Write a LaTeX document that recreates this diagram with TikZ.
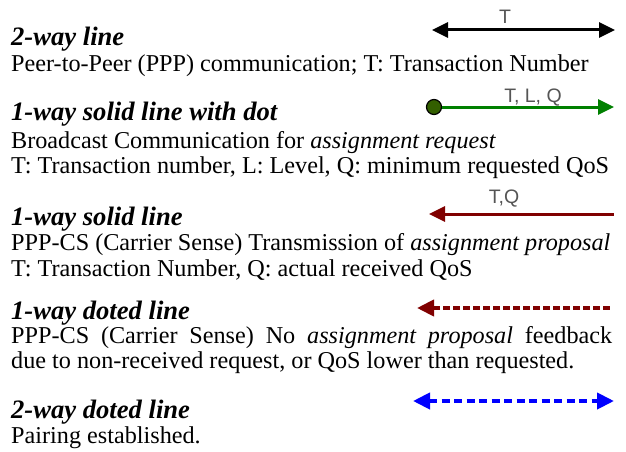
\documentclass[tikz,border=0pt]{standalone}
\usepackage{fontspec}
\setmainfont{Liberation Serif}
\newfontfamily\labelfont{Liberation Sans}
\usetikzlibrary{arrows.meta}

\definecolor{linkgreen}{RGB}{0,128,0}
\definecolor{dotgreen}{RGB}{51,95,0}
\definecolor{linkred}{RGB}{128,0,0}
\definecolor{linkblue}{RGB}{0,0,255}
\definecolor{tagtext}{RGB}{85,85,85}

\begin{document}
\begin{tikzpicture}[x=1pt, y=-1pt,
        head/.style = {anchor=base west, inner sep=0pt, font=\fontsize{26.6}{27}\selectfont\bfseries\itshape},
        body/.style = {anchor=base west, inner sep=0pt, font=\fontsize{24.2}{25}\selectfont},
        tag/.style  = {inner sep=0pt, anchor=base, text=tagtext, font=\labelfont\fontsize{19.5}{20}\selectfont},
        thintip/.tip = {Triangle[length=16pt, width=15pt]},
        dashtip/.tip = {Triangle[length=17pt, width=16pt]},
        link/.style = {line width=3pt}]
    \useasboundingbox (0,0) rectangle (626,452);

    % 2-way line
    \coordinate (twoL) at (432,30);
    \coordinate (twoR) at (615,30);
    \draw[link, black, thintip-thintip] (twoL) -- (twoR);
    \node[tag] (twoT) at (505,24) {T};
    \node[head] (twoHead) at (11,46) {2-way line};
    \node[body] (twoBody) at (11,71) {Peer-to-Peer (PPP) communication; T: Transaction Number};

    % 1-way solid line with dot
    \node[draw=black, line width=1.2pt, fill=dotgreen, circle, minimum size=15pt, inner sep=0pt] (dotS) at (434,107) {};
    \coordinate (dotR) at (614,107);
    \draw[link, linkgreen, -thintip] (dotS) -- (dotR);
    \node[tag] (dotT) at (533,102) {T, L, Q};
    \node[head] (dotHead) at (11,120) {1-way solid line with dot};
    \node[body] (dotBody) at (11,148) {Broadcast Communication for \emph{assignment request}};
    \node[body] (dotBodyB) at (11,173) {T: Transaction number, L: Level, Q: minimum requested QoS};

    % 1-way solid line
    \coordinate (solL) at (429,214);
    \coordinate (solR) at (614,214);
    \draw[link, linkred, thintip-] (solL) -- (solR);
    \node[tag] (solT) at (504,203) {T,Q};
    \node[head] (solHead) at (11,225) {1-way solid line};
    \node[body] (solBody) at (11,250) {PPP-CS (Carrier Sense) Transmission of \emph{assignment proposal}};
    \node[body] (solBodyB) at (11,276) {T: Transaction Number, Q: actual received QoS};

    % 1-way doted line
    \coordinate (dotdL) at (417,308);
    \coordinate (dotdR) at (613,308);
    \draw[line width=4pt, linkred, dash pattern=on 7pt off 3pt, dashtip-] (dotdL) -- (dotdR);
    \node[head] (dotdHead) at (11,319) {1-way doted line};
    \node[body] (dotdBody) at (11,343) {\makebox[601pt][s]{PPP-CS (Carrier Sense) No \emph{assignment proposal} feedback}};
    \node[body] (dotdBodyB) at (11,368) {due to non-received request, or QoS lower than requested.};

    % 2-way doted line
    \coordinate (pairL) at (413,401);
    \coordinate (pairR) at (614,401);
    \draw[line width=4pt, linkblue, dash pattern=on 8pt off 4.5pt, dashtip-dashtip] (pairL) -- (pairR);
    \node[head] (pairHead) at (11,418) {2-way doted line};
    \node[body] (pairBody) at (11,443) {Pairing established.};
\end{tikzpicture}
\end{document}
